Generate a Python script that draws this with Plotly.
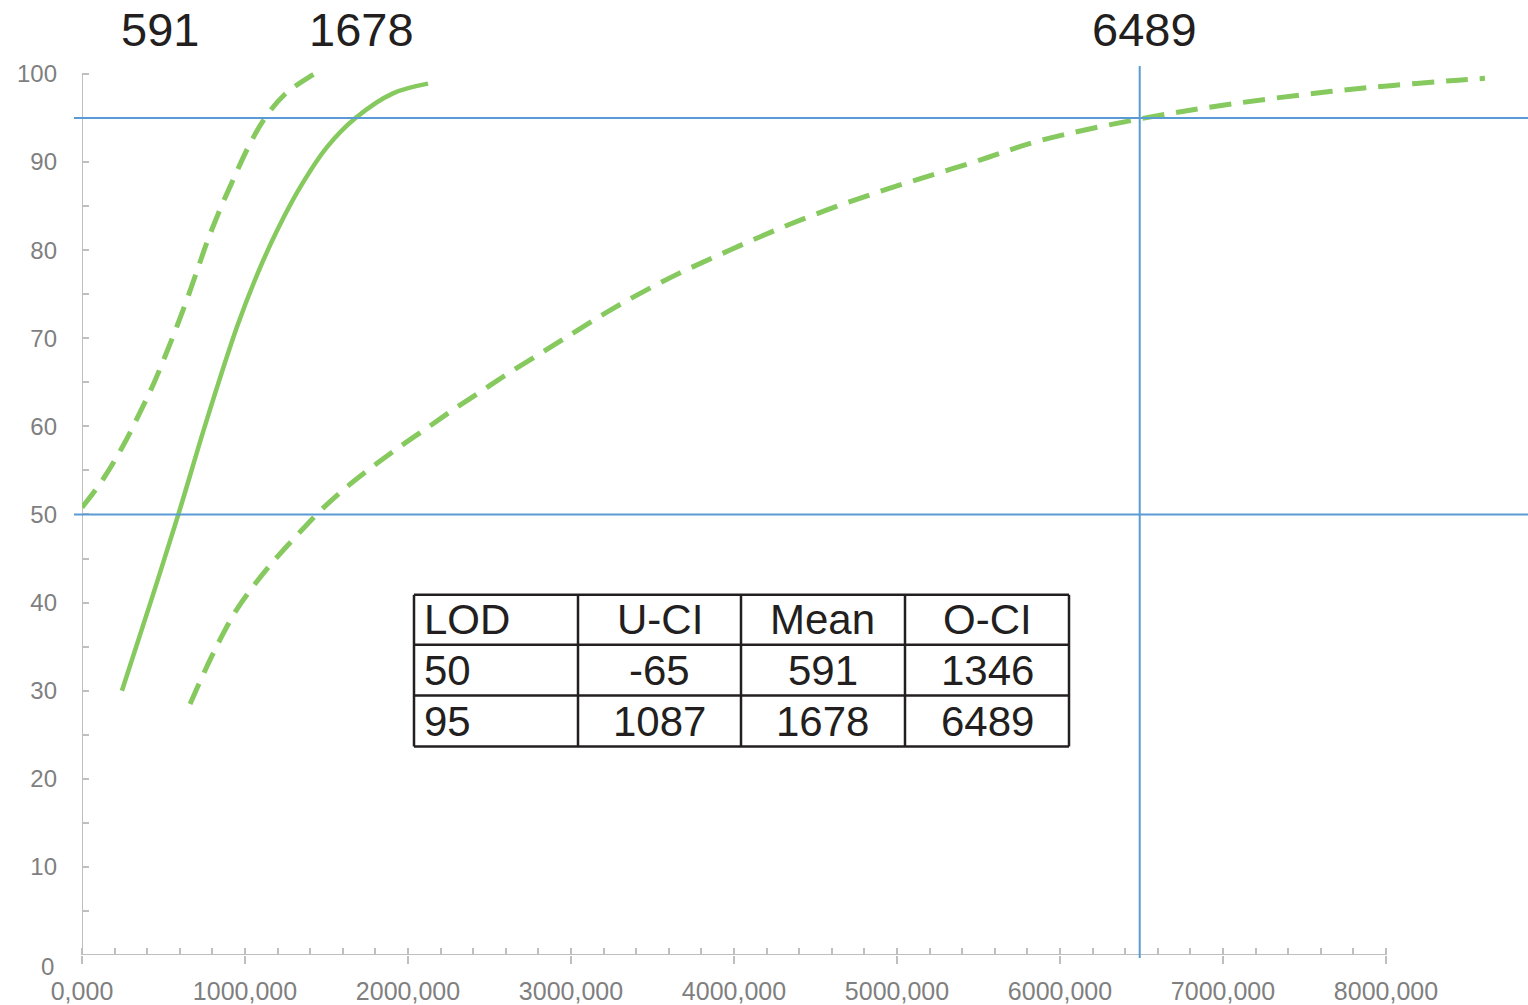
import plotly.graph_objects as go

# ---- data -------------------------------------------------------------
# Mean detection-probability curve (solid)
mean_x = [245, 420, 591, 760, 951, 1074, 1196, 1337, 1503, 1678, 1908, 2123]
mean_y = [30.0, 40.0, 50.0, 60.4, 71.3, 77.2, 82.2, 87.1, 91.7, 95.0, 97.8, 98.9]

# Lower confidence bound (dashed, left)
ucl_x = [0, 129, 252, 356, 436, 558, 644, 712, 773, 853, 935, 1012, 1119, 1245, 1407, 1456]
ucl_y = [50.8, 54.0, 57.8, 61.6, 64.7, 70.2, 74.4, 78.0, 81.2, 84.9, 88.3, 91.4, 94.9, 97.7,
         99.8, 100.3]

# Upper confidence bound (dashed, right)
ocl_x = [663, 755, 847, 949, 1061, 1184, 1317, 1450, 1603, 1788, 1951, 2115, 2278, 2442,
         2605, 2779, 2953, 3260, 3622, 3986, 4350, 4726, 5104, 5489, 5871, 6489, 7055,
         7656, 8043, 8442, 8607]
ocl_y = [28.5, 32.3, 35.8, 39.2, 42.1, 44.9, 47.6, 50.2, 52.8, 55.5, 57.7, 59.8, 61.9, 63.9,
         65.9, 67.9, 69.9, 73.4, 77.0, 80.1, 83.0, 85.6, 87.9, 90.1, 92.4, 94.9, 96.6,
         98.0, 98.7, 99.3, 99.5]

# Reference levels
lod_levels = [50, 95]
o_ci_lod95 = 6489

# Values printed above the plot
top_labels = ["591", "1678", "6489"]

# Summary table
table_header = ["LOD", "U-CI", "Mean", "O-CI"]
table_rows = [["50", "-65", "591", "1346"],
              ["95", "1087", "1678", "6489"]]

# Axis ticks
x_major = list(range(0, 8001, 1000))
x_major_text = ["0,000"] + [f"{v},000" for v in x_major[1:]]
x_minor = list(range(0, 8001, 200))
y_major = list(range(0, 101, 10))
y_minor = list(range(5, 100, 10))

# ---- layout geometry (pixels) ----------------------------------------
W, H = 1528, 1005
L, R, T, B = 82, 1528, 60, 957
X_MAX = (R - L) / 163.0 * 1000.0
Y_MAX = (B - T) / 8.83


def px_x(p):
    return (p - L) / (R - L)


def px_y(p):
    return (B - p) / (B - T)


GREEN = "#86c95e"
BLUE = "#5b9bd5"
AXIS = "#bfbfbf"
TICKTXT = "#7f7f7f"
INK = "#231f20"
FONT = "Liberation Sans, Arial, sans-serif"

fig = go.Figure()

fig.add_trace(go.Scatter(x=ucl_x, y=ucl_y, mode="lines", line_shape="spline",
                         line=dict(color=GREEN, width=5, dash="22px,12px"),
                         hoverinfo="skip", showlegend=False))
fig.add_trace(go.Scatter(x=mean_x, y=mean_y, mode="lines", line_shape="spline",
                         line=dict(color=GREEN, width=4.5),
                         hoverinfo="skip", showlegend=False))
fig.add_trace(go.Scatter(x=ocl_x, y=ocl_y, mode="lines", line_shape="spline",
                         line=dict(color=GREEN, width=5, dash="22px,12px"),
                         hoverinfo="skip", showlegend=False))

shapes = []
# axis lines
shapes.append(dict(type="line", xref="x", yref="y", x0=0, x1=8000, y0=0, y1=0,
                   line=dict(color=AXIS, width=2), layer="below"))
shapes.append(dict(type="line", xref="x", yref="y", x0=0, x1=0, y0=0, y1=100,
                   line=dict(color=AXIS, width=2), layer="below"))
# horizontal LOD lines
for lv in lod_levels:
    shapes.append(dict(type="line", xref="paper", yref="y", x0=px_x(74), x1=1.0,
                       y0=lv, y1=lv, line=dict(color=BLUE, width=2), layer="above"))
# vertical line at the upper-bound LOD95
shapes.append(dict(type="line", xref="x", yref="paper", x0=o_ci_lod95, x1=o_ci_lod95,
                   y0=px_y(960), y1=px_y(66), line=dict(color=BLUE, width=2), layer="above"))

# summary table grid
col_px = [414, 578, 741, 905, 1069]
row_px = [596, 646, 697, 748]
for cx in col_px:
    shapes.append(dict(type="line", xref="paper", yref="paper", x0=px_x(cx), x1=px_x(cx),
                       y0=px_y(row_px[0]), y1=px_y(row_px[-1]),
                       line=dict(color=INK, width=2.5)))
for ry in row_px:
    shapes.append(dict(type="line", xref="paper", yref="paper", x0=px_x(col_px[0]),
                       x1=px_x(col_px[-1]), y0=px_y(ry), y1=px_y(ry),
                       line=dict(color=INK, width=2.5)))

annotations = []
all_rows = [table_header] + table_rows
for ri, row in enumerate(all_rows):
    yc = (row_px[ri] + row_px[ri + 1]) / 2
    for ci, txt in enumerate(row):
        if ci == 0:
            annotations.append(dict(x=px_x(col_px[0] + 8), y=px_y(yc), xref="paper", yref="paper",
                                    text=txt, showarrow=False, xanchor="left", yanchor="middle",
                                    font=dict(family=FONT, size=42, color=INK)))
        else:
            xc = (col_px[ci] + col_px[ci + 1]) / 2
            annotations.append(dict(x=px_x(xc), y=px_y(yc), xref="paper", yref="paper",
                                    text=txt, showarrow=False, xanchor="center", yanchor="middle",
                                    font=dict(family=FONT, size=42, color=INK)))

# values above the plot
for txt, cx in zip(top_labels, [160, 361, 1144]):
    annotations.append(dict(x=px_x(cx), y=px_y(29), xref="paper", yref="paper", text=txt,
                            showarrow=False, xanchor="center", yanchor="middle",
                            font=dict(family=FONT, size=47, color=INK)))

# the "0" of the y axis sits a little below the origin
annotations.append(dict(x=px_x(56), y=0, xref="paper", yref="y", text="0", showarrow=False,
                        xanchor="right", yanchor="middle", yshift=-11,
                        font=dict(family=FONT, size=24, color=TICKTXT)))

fig.update_layout(
    width=W, height=H,
    margin=dict(l=L, r=W - R, t=T, b=H - B, pad=0),
    paper_bgcolor="white", plot_bgcolor="white",
    shapes=shapes, annotations=annotations,
    xaxis=dict(range=[0, X_MAX], showgrid=False, zeroline=False, showline=False,
               tickmode="array", tickvals=x_major, ticktext=x_major_text,
               ticks="outside", ticklen=8, tickwidth=2, tickcolor=AXIS,
               tickfont=dict(family=FONT, size=25, color=TICKTXT), ticklabelstandoff=6,
               minor=dict(tickmode="array", tickvals=x_minor, ticks="inside", ticklen=7,
                          tickwidth=2, tickcolor=AXIS, showgrid=False)),
    yaxis=dict(range=[0, Y_MAX], showgrid=False, zeroline=False, showline=False,
               tickmode="array", tickvals=y_major,
               ticktext=[""] + [str(v) for v in y_major[1:]],
               ticks="inside", ticklen=7, tickwidth=2, tickcolor=AXIS,
               tickfont=dict(family=FONT, size=24, color=TICKTXT), ticklabelstandoff=24,
               minor=dict(tickmode="array", tickvals=y_minor, ticks="inside", ticklen=7,
                          tickwidth=2, tickcolor=AXIS, showgrid=False)),
)

fig.write_html("out.html")
